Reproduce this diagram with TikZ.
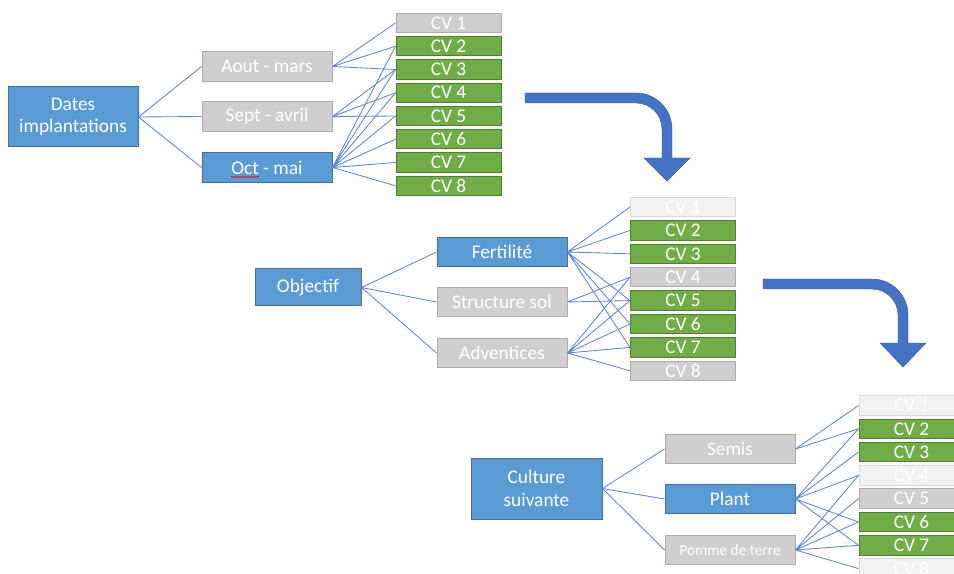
\documentclass[tikz,border=0pt]{standalone}
\usepackage{fontspec}
\setmainfont{Carlito}
\usetikzlibrary{decorations.pathmorphing}

\definecolor{boxblue}{RGB}{91,155,213}
\definecolor{boxblueline}{RGB}{65,113,156}
\definecolor{boxgray}{RGB}{208,206,206}
\definecolor{boxgrayline}{RGB}{175,171,171}
\definecolor{boxgreen}{RGB}{112,173,71}
\definecolor{boxgreenline}{RGB}{80,126,50}
\definecolor{boxpale}{RGB}{242,242,242}
\definecolor{boxpaleline}{RGB}{217,217,217}
\definecolor{linkblue}{RGB}{68,114,196}

\tikzset{
  cbox/.style={draw, line width=0.75pt, text=white, inner sep=0pt, align=center,
    font=\fontsize{14.5}{16.5}\selectfont},
  bluebox/.style={cbox, fill=boxblue, draw=boxblueline},
  graybox/.style={cbox, fill=boxgray, draw=boxgrayline},
  greenbox/.style={cbox, fill=boxgreen, draw=boxgreenline},
  palebox/.style={cbox, fill=boxpale, draw=boxpaleline},
  cvbox/.style={minimum width=78.75pt, minimum height=14.6pt},
  midbox/.style={minimum width=97.5pt, minimum height=22pt},
  rootbox/.style={minimum width=97.5pt, minimum height=45pt},
  link/.style={draw=linkblue!85, line width=0.65pt},
  bigarrow/.style={fill=linkblue, draw=linkblue!80!black, line width=0.3pt},
}

\begin{document}
\begin{tikzpicture}[x=0.75pt,y=0.75pt,yscale=-1,xscale=1]
\clip (0,0) rectangle (954,574);

%% first tree: dates
% Text Node
\node [bluebox, rootbox] (dates) at (73,117) {Dates\\implantations};
\node [graybox, midbox] (aout) at (267,66.5) {Aout - mars};
\node [graybox, midbox] (sept) at (267,116.5) {Sept - avril};
\node [bluebox, midbox] (oct) at (267,167.5) {Oct - mai};
% CV column
\node [graybox, cvbox] (t1) at (448.5,23) {CV 1};
\node [greenbox, cvbox] (t2) at (448.5,46.25) {CV 2};
\node [greenbox, cvbox] (t3) at (448.5,69.5) {CV 3};
\node [greenbox, cvbox] (t4) at (448.5,92.75) {CV 4};
\node [greenbox, cvbox] (t5) at (448.5,116) {CV 5};
\node [greenbox, cvbox] (t6) at (448.5,139.25) {CV 6};
\node [greenbox, cvbox] (t7) at (448.5,162.5) {CV 7};
\node [greenbox, cvbox] (t8) at (448.5,185.75) {CV 8};
% spell check mark
\draw [red, line width=0.5pt, decorate, decoration={snake, amplitude=0.5pt, segment length=2.4pt}] (231,177) -- (259,177);

% Straight Lines
\draw [link] (dates.east) -- (aout.west) (dates.east) -- (sept.west) (dates.east) -- (oct.west);
\draw [link] (aout.east) -- (t1.west) (aout.east) -- (t2.west) (aout.east) -- (t3.west);
\draw [link] (sept.east) -- (t3.west) (sept.east) -- (t4.west) (sept.east) -- (t5.west);
\draw [link] (oct.east) -- (t2.west) (oct.east) -- (t3.west) (oct.east) -- (t4.west)
  (oct.east) -- (t5.west) (oct.east) -- (t6.west) (oct.east) -- (t7.west) (oct.east) -- (t8.west);

%% second tree: objectif
% Text Node
\node [bluebox, minimum width=79.5pt, minimum height=27.75pt] (obj) at (308,287.5) {Objectif};
\node [bluebox, midbox] (fert) at (502,252) {Fertilité};
\node [graybox, midbox] (struct) at (502,302) {Structure sol};
\node [graybox, midbox] (advent) at (502,353) {Adventices};
% CV column
\node [palebox, cvbox] (m1) at (683,207) {CV 1};
\node [greenbox, cvbox] (m2) at (683,230.4) {CV 2};
\node [greenbox, cvbox] (m3) at (683,253.8) {CV 3};
\node [graybox, cvbox] (m4) at (683,277.2) {CV 4};
\node [greenbox, cvbox] (m5) at (683,300.6) {CV 5};
\node [greenbox, cvbox] (m6) at (683,324) {CV 6};
\node [greenbox, cvbox] (m7) at (683,347.4) {CV 7};
\node [graybox, cvbox] (m8) at (683,370.8) {CV 8};

% Straight Lines
\draw [link] (obj.east) -- (fert.west) (obj.east) -- (struct.west) (obj.east) -- (advent.west);
\draw [link] (fert.east) -- (m1.west) (fert.east) -- (m2.west) (fert.east) -- (m3.west)
  (fert.east) -- (m5.west) (fert.east) -- (m6.west) (fert.east) -- (m7.west);
\draw [link] (struct.east) -- (m4.west) (struct.east) -- (m5.west);
\draw [link] (advent.east) -- (m4.west) (advent.east) -- (m5.west) (advent.east) -- (m6.west)
  (advent.east) -- (m7.west) (advent.east) -- (m8.west);

%% third tree: culture suivante
% Text Node
\node [bluebox, minimum width=98.25pt, minimum height=45.75pt, font=\fontsize{14.5}{17}\selectfont] (cult) at (536.5,488.5) {Culture\\suivante};
\node [graybox, midbox] (semis) at (730,449) {Semis};
\node [bluebox, midbox] (plant) at (730,499) {Plant};
\node [graybox, midbox, font=\fontsize{11.5}{13}\selectfont] (pomme) at (730,550) {Pomme de terre};
% CV column
\node [palebox, cvbox] (b1) at (911.5,405.5) {CV 1};
\node [greenbox, cvbox] (b2) at (911.5,428.8) {CV 2};
\node [greenbox, cvbox] (b3) at (911.5,452.1) {CV 3};
\node [palebox, cvbox] (b4) at (911.5,475.4) {CV 4};
\node [graybox, cvbox] (b5) at (911.5,498.7) {CV 5};
\node [greenbox, cvbox] (b6) at (911.5,522) {CV 6};
\node [greenbox, cvbox] (b7) at (911.5,545.3) {CV 7};
\node [palebox, cvbox] (b8) at (911.5,568.6) {CV 8};

% Straight Lines
\draw [link] (cult.east) -- (semis.west) (cult.east) -- (plant.west) (cult.east) -- (pomme.west);
\draw [link] (semis.east) -- (b1.west) (semis.east) -- (b2.west);
\draw [link] (plant.east) -- (b2.west) (plant.east) -- (b3.west) (plant.east) -- (b4.west)
  (plant.east) -- (b6.west) (plant.east) -- (b7.west);
\draw [link] (pomme.east) -- (b4.west) (pomme.east) -- (b5.west) (pomme.east) -- (b6.west)
  (pomme.east) -- (b7.west) (pomme.east) -- (b8.west);

%% bent arrows
\draw [bigarrow] (525,93) -- (636,93) .. controls (655.9,93) and (672,109.1) .. (672,129) -- (672,158) -- (690,158) -- (667,181) -- (644,158) -- (662,158) -- (662,129) .. controls (662,114.6) and (650.4,103) .. (636,103) -- (525,103) -- cycle;
\draw [bigarrow] (763,279) -- (872,279) .. controls (891.9,279) and (908,295.1) .. (908,315) -- (908,343) -- (926,343) -- (903,367) -- (880,343) -- (898,343) -- (898,315) .. controls (898,300.6) and (886.4,289) .. (872,289) -- (763,289) -- cycle;

\end{tikzpicture}
\end{document}
